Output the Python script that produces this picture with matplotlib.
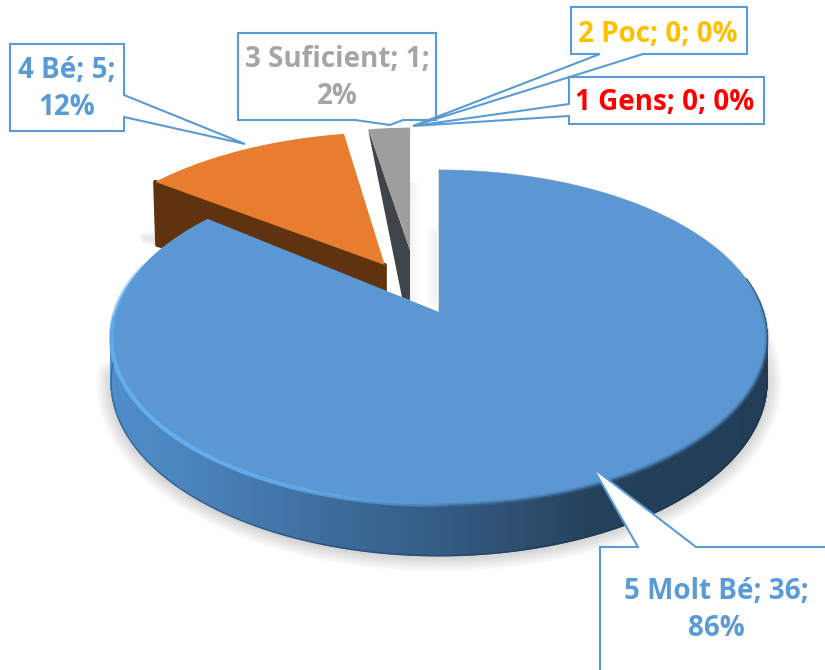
"""
plot.py
Exploded 3D-look pie chart with callout labels, saved as out.png.
"""

import numpy as np
import matplotlib
matplotlib.use('Agg')
import matplotlib.pyplot as plt
from matplotlib.patches import Polygon
from matplotlib.collections import PolyCollection, LineCollection

# ── Data ─────────────────────────────────────────────────────────────────────

names = ['5 Molt Bé', '4 Bé', '3 Suficient', '2 Poc', '1 Gens']
values = [36, 5, 1, 0, 0]
label_colors = ['#5b9bd5', '#5b9bd5', '#a5a5a5', '#ffc000', '#ff0000']
label_breaks = [True, True, True, False, False]

# ── Projection of the pie plane onto the picture (pixels) ────────────────────

CX, CY = 439, 312
RX, RY = 324, 163.6
PERSP = 0.152


def proj(u, v, h=0.0):
    s = 1 / (1 - PERSP * np.asarray(v))
    return CX + RX * np.asarray(u) * s, CY + RY * np.asarray(v) * s + h * s


def rim(theta, du=0.0, dv=0.0, r=1.0):
    t = np.radians(theta)
    return du + r * np.sin(t), dv - r * np.cos(t)


def fading_rim(theta0, theta1, color, lw, peak, z):
    # arc along the top face whose opacity rises and falls along its length
    th = np.linspace(theta0, theta1, 200)
    x, y = proj(*rim(th))
    segs = [[(x[i], y[i]), (x[i + 1], y[i + 1])] for i in range(len(th) - 1)]
    rgba = np.tile(matplotlib.colors.to_rgba(color), (len(segs), 1))
    rgba[:, 3] = peak * np.sin(np.pi * np.arange(len(segs)) / len(segs)) ** 0.5
    ax.add_collection(LineCollection(segs, colors=rgba, linewidths=lw, zorder=z))


total = sum(values)
edges = np.concatenate([[0], np.cumsum(values)]) * 360.0 / total

plt.rcParams['font.family'] = ['Open Sans', 'DejaVu Sans']
fig = plt.figure(figsize=(8.25, 6.70), dpi=100)
ax = fig.add_axes([0, 0, 1, 1])
ax.set_xlim(0, 825)
ax.set_ylim(670, 0)
ax.axis('off')

# ── Soft shadows ─────────────────────────────────────────────────────────────

th = np.linspace(85, edges[1] - 45, 300)
bx, by = proj(*rim(th), 43)
for lw in np.linspace(22, 2, 21):
    ax.plot(bx, by + 1, color='#666666', lw=lw, alpha=0.012, solid_capstyle='round', zorder=1)
for k in range(12):
    ax.fill([425 + k, 426 + k, 426 + k, 425 + k], [228, 228, 306, 303],
            color='#666666', alpha=0.008 * k, lw=0, zorder=1)
for k in range(12):
    ax.fill([409 + k, 410 + k, 410 + k, 409 + k], [182, 182, 300, 300],
            color='#666666', alpha=0.08 - 0.007 * k, lw=0, zorder=1)
for lw in np.linspace(10, 2, 8):
    ax.plot([146, 158], [238, 240], color='#666666', lw=lw, alpha=0.02,
            solid_capstyle='round', zorder=1)

# ── Orange slice ─────────────────────────────────────────────────────────────

ORANGE_OFF = (-0.175, -0.30)
th = np.linspace(edges[1] - 2.2, edges[2] - 1.4, 60)
ox, oy = proj(*rim(th, *ORANGE_OFF, r=1.02))
ax0, ay0 = proj(*ORANGE_OFF)
ax.add_patch(Polygon([(ox[0], oy[0]), (ax0, ay0), (ax0, ay0 + 40), (ox[0] + 2, oy[0] + 63)],
                     fc='#5f3310', ec='#5f3310', lw=3, joinstyle='round', zorder=2))
ax.fill(np.r_[ax0, ox], np.r_[ay0, oy], color='#e97d2f', lw=0, zorder=3)

# ── Gray slice ───────────────────────────────────────────────────────────────

GRAY_OFF = (-0.095, -0.40)
th = np.linspace(edges[2] - 1.5, edges[3] - 0.75, 12)
gx, gy = proj(*rim(th, *GRAY_OFF, r=0.96))
gx0, gy0 = proj(*GRAY_OFF)
ax.add_patch(Polygon([(gx[0], gy[0]), (gx0, gy0), (gx0, gy0 + 50), (gx0 - 8, gy0 + 47),
                      (gx[0] + 1, gy[0] + 6)],
                     fc='#404448', ec='none', zorder=4))
ax.fill(np.r_[gx0, gx], np.r_[gy0, gy], color='#9e9e9e', lw=0, zorder=5)

# ── Blue slice: side band with a left-to-right gradient, then the top ────────

th = np.linspace(78, edges[1] - 40, 500)
tx, ty = proj(*rim(th))
bx, by = proj(*rim(th), 43)
quads = [[(tx[i], ty[i]), (tx[i + 1], ty[i + 1]), (bx[i + 1], by[i + 1]), (bx[i], by[i])]
         for i in range(len(th) - 1)]
stops_x = [110, 125, 200, 320, 450, 600, 768]
stops_c = np.array([[0x50, 0x8e, 0xcc], [0x4f, 0x8c, 0xc8], [0x4a, 0x82, 0xbb],
                    [0x3e, 0x6e, 0x9e], [0x33, 0x5a, 0x82], [0x24, 0x40, 0x5a],
                    [0x23, 0x3d, 0x57]]) / 255
mid = (tx[:-1] + tx[1:]) / 2
cols = np.column_stack([np.interp(mid, stops_x, stops_c[:, k]) for k in range(3)])
ax.add_collection(PolyCollection(quads, facecolors=cols, edgecolors=cols, lw=1.2, zorder=6))
ax.plot(bx, by, color='#16283a', lw=1.0, alpha=0.35, zorder=6.2)

th = np.linspace(0, edges[1], 400)
fx, fy = proj(*rim(th))
ax.fill(np.r_[CX, fx], np.r_[CY, fy], color='#5a97d3', lw=0, zorder=7)
ax.plot(fx[:110], fy[:110], color='#3d5f80', lw=0.7, alpha=0.4, zorder=6.5)
ax.plot([CX, CX], [CY, 170], color='#2f4f6f', lw=1.0, zorder=6.5)

# bevel: soft lower rim and bright left rim
fading_rim(80, 200, '#3f6f9f', 3.0, 0.55, 8)
fading_rim(178, 288, '#66b0f2', 3.0, 1.0, 8.5)

# ── Callouts ─────────────────────────────────────────────────────────────────

LINE = '#5b9bd5'
callouts = [
    [(600, 547), (638, 547), (593, 468), (696, 547), (840, 547), (840, 690), (600, 690)],
    [(10, 44), (124, 44), (124, 95), (245, 144), (124, 117), (124, 131), (10, 131)],
    [(238, 33), (436, 33), (436, 120), (403, 120), (390, 125), (355, 120), (238, 120)],
    [(571, 7), (747, 7), (747, 54), (643, 54), (413, 126), (600, 54), (571, 54)],
    [(569, 77), (764, 77), (764, 124), (569, 124), (569, 116), (413, 126), (569, 104)],
]
text_pos = [(716, 610), (67, 89), (337, 78), (658, 34), (665, 103)]

for i, name in enumerate(names):
    ax.add_patch(Polygon(callouts[i], fc='white', ec=LINE, lw=1.5, zorder=10 + i))
    pct = 100 * values[i] / total
    sep = '\n' if label_breaks[i] else ' '
    ax.text(*text_pos[i], f'{name}; {values[i]};{sep}{pct:.0f}%',
            color=label_colors[i], fontsize=20, fontweight='bold',
            ha='center', va='center', linespacing=1.38, zorder=20)

fig.savefig('out.png', dpi=100)
print('Saved: out.png')
